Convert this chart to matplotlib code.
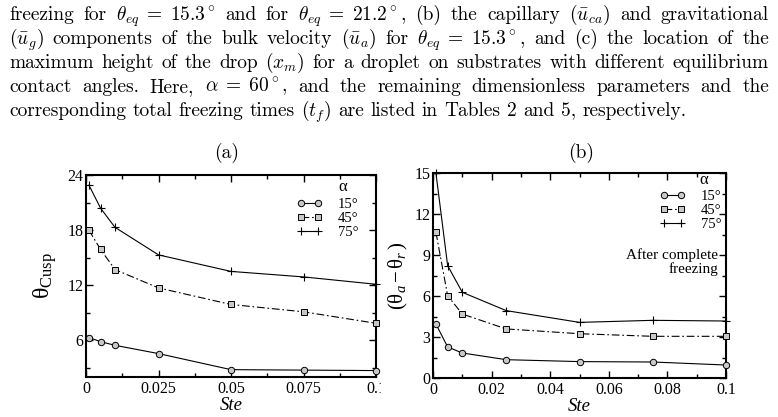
import matplotlib
matplotlib.use('Agg')
import matplotlib.pyplot as plt
from matplotlib.lines import Line2D
from matplotlib.transforms import Bbox, TransformedBbox

plt.rcParams['font.family'] = 'Liberation Serif'
plt.rcParams['mathtext.fontset'] = 'custom'
plt.rcParams['mathtext.rm'] = 'Liberation Serif'
plt.rcParams['mathtext.it'] = 'Liberation Serif:italic'
plt.rcParams['mathtext.bf'] = 'Liberation Serif:bold'

# data
ste = [0.001, 0.005, 0.01, 0.025, 0.05, 0.075, 0.1]
alpha_labels = ['15°', '45°', '75°']
cusp_15 = [6.3, 5.85, 5.45, 4.55, 2.8, 2.75, 2.7]
cusp_45 = [18.0, 15.9, 13.7, 11.7, 9.9, 9.1, 7.85]
cusp_75 = [22.9, 20.4, 18.3, 15.3, 13.5, 12.9, 12.1]
hyst_15 = [3.95, 2.27, 1.83, 1.34, 1.2, 1.17, 0.95]
hyst_45 = [10.66, 6.02, 4.68, 3.59, 3.24, 3.05, 3.05]
hyst_75 = [15.0, 8.22, 6.27, 4.93, 4.07, 4.22, 4.17]

caption_lines = [
    r"freezing for $\theta_{eq}\;=\;15.3^\circ$ and for $\theta_{eq}\;=\;21.2^\circ$, (b) the capillary ($\bar{u}_{ca}$) and gravitational",
    r"($\bar{u}_g$) components of the bulk velocity ($\bar{u}_a$) for $\theta_{eq}\;=\;15.3^\circ$, and (c) the location of the",
    r"maximum height of the drop ($x_m$) for a droplet on substrates with different equilibrium",
    r"contact angles. Here, $\alpha\;=\;60^\circ$, and the remaining dimensionless parameters and the",
    r"corresponding total freezing times ($t_f$) are listed in Tables 2 and 5, respectively.",
]

W, H = 778, 417
fig = plt.figure(figsize=(W / 100, H / 100), dpi=100)
fig.patch.set_facecolor('white')

ax1 = fig.add_axes([86 / W, 1 - 377 / H, 290 / W, 202 / H])
ax2 = fig.add_axes([433 / W, 1 - 378 / H, 293 / W, 205 / H])

gray = '#c8c8c8'
styles = [
    dict(marker='o', ls='-', ms=4.6, mfc=gray, mec='black', mew=0.7),
    dict(marker='s', ls=(0, (7, 2.5, 1.5, 2.5)), ms=4.0, mfc=gray, mec='black', mew=0.7),
    dict(marker='+', ls='-', ms=5.5, mec='black', mew=0.8),
]

for ax, series in [(ax1, [cusp_15, cusp_45, cusp_75]), (ax2, [hyst_15, hyst_45, hyst_75])]:
    for vals, st in zip(series, styles):
        ax.plot(ste, vals, color='black', lw=0.8, clip_on=False, zorder=3, **st)
    ax.tick_params(which='both', direction='in', top=True, right=True,
                   labelsize=11.5, width=1.0)
    ax.tick_params(which='major', length=5, pad=3)
    ax.tick_params(which='minor', length=3)
    ax.tick_params(axis='y', pad=2)
    for sp in ax.spines.values():
        sp.set_linewidth(1.5)
    ax.set_xlim(0, 0.1)
    ax.set_xlabel('Ste', fontsize=13.5, style='italic', labelpad=0)
    handles = [Line2D([], [], color='black', lw=0.8, **st) for st in styles]
    ax.legend(handles, alpha_labels, loc='upper left', frameon=False, numpoints=2,
              fontsize=10.5, handlelength=1.75, handletextpad=1.05, labelspacing=0.05,
              borderpad=0, borderaxespad=0,
              bbox_to_anchor=(0.728, 0.885) if ax is ax1 else (0.775, 0.918))

# panel (a)
ax1.set_ylim(2, 24)
ax1.set_xticks([0, 0.025, 0.05, 0.075, 0.1])
ax1.set_xticklabels(['0', '0.025', '0.05', '0.075', '0.1'])
ax1.set_xticks([0.0125, 0.0375, 0.0625, 0.0875], minor=True)
ax1.set_yticks([6, 12, 18, 24])
ax1.set_yticks([3, 9, 15, 21], minor=True)
ax1.set_ylabel(r'$\mathrm{θ}_{\mathrm{Cusp}}$', fontsize=17, labelpad=6)
ax1.text(0.886, 0.94, 'α', transform=ax1.transAxes, fontsize=12, ha='center', va='center')

# panel (b)
ax2.set_ylim(0, 15)
ax2.set_xticks([0, 0.02, 0.04, 0.06, 0.08, 0.1])
ax2.set_xticklabels(['0', '0.02', '0.04', '0.06', '0.08', '0.1'])
ax2.set_xticks([0.01, 0.03, 0.05, 0.07, 0.09], minor=True)
ax2.set_yticks([0, 3, 6, 9, 12, 15])
ax2.set_yticks([1.5, 4.5, 7.5, 10.5, 13.5], minor=True)
ax2.set_ylabel(r'$(\mathrm{θ}_a\,\mathrm{-}\,\mathrm{θ}_r\,)$', fontsize=15, labelpad=3)
ax2.text(0.925, 0.964, 'α', transform=ax2.transAxes, fontsize=12, ha='center', va='center')
ax2.text(0.973, 0.566, 'After complete\nfreezing', transform=ax2.transAxes,
         fontsize=11, ha='right', va='center', linespacing=1.05)

# panel titles
fig.text(227 / W, 1 - 153 / H, '(a)', family='cmr10', fontsize=14, ha='center', va='center')
fig.text(581 / W, 1 - 153 / H, '(b)', family='cmr10', fontsize=14, ha='center', va='center')

# last x tick label of (a) is cut off by panel (b) in the source figure
fig.canvas.draw()
clip = TransformedBbox(Bbox([[0, 0], [381 / W, 1]]), fig.transFigure)
for lbl in ax1.get_xticklabels():
    lbl.set_clip_box(clip)
    lbl.set_clip_on(True)

# caption paragraph, justified word by word
renderer = fig.canvas.get_renderer()
left, right = 9, 769
baselines = [20, 44.3, 68.3, 92.3, 116.3]
cap_size = 14
probe = [fig.text(0, 0, ln, family='cmr10', math_fontfamily='cm', fontsize=cap_size)
         for ln in caption_lines]
widest = max(p.get_window_extent(renderer).width for p in probe)
for p in probe:
    p.remove()
if widest > 0.985 * (right - left):
    cap_size *= 0.985 * (right - left) / widest

space = cap_size * 0.333 * 100 / 72
for i, ln in enumerate(caption_lines):
    words = ln.split(' ')
    objs = [fig.text(0, 1 - baselines[i] / H, w, family='cmr10', math_fontfamily='cm',
                     fontsize=cap_size, va='baseline', ha='left') for w in words]
    widths = [o.get_window_extent(renderer).width for o in objs]
    if i < len(caption_lines) - 1:
        gap = (right - left - sum(widths)) / (len(words) - 1)
    else:
        gap = space
    x = left
    for o, w in zip(objs, widths):
        o.set_x(x / W)
        x += w + gap

fig.savefig('out.png', dpi=100)
